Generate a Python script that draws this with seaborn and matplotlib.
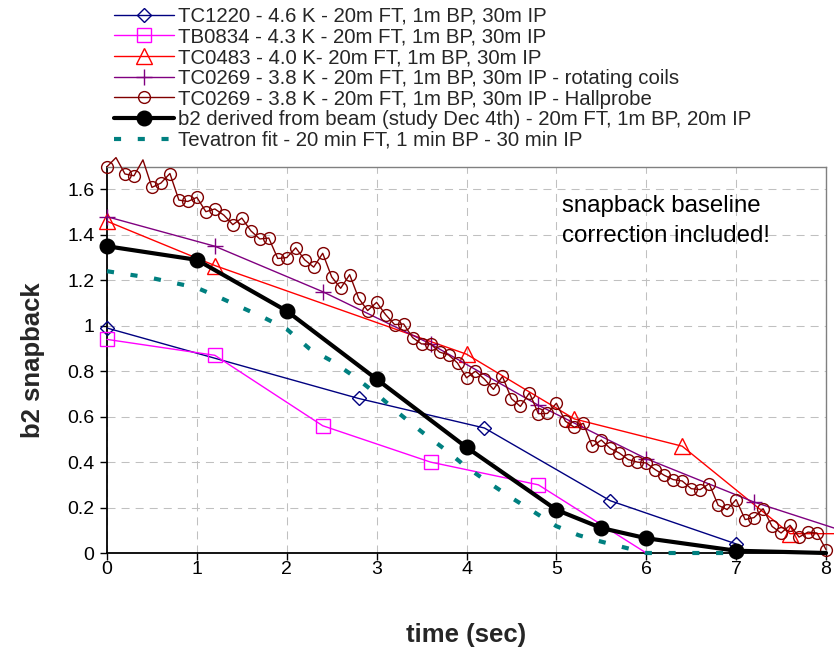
import matplotlib
matplotlib.use("Agg")
import matplotlib.pyplot as plt
import seaborn as sns
import pandas as pd
from matplotlib.lines import Line2D

# ---------------- data ----------------
tc1220_t = [0, 2.8, 4.2, 5.6, 7.0]
tc1220_b2 = [0.99, 0.68, 0.55, 0.23, 0.04]

tb0834_t = [0, 1.2, 2.4, 3.6, 4.8, 6.0]
tb0834_b2 = [0.94, 0.87, 0.56, 0.40, 0.30, 0.0]

tc0483_t = [0, 1.2, 4.0, 5.2, 6.4, 7.6, 8.8]
tc0483_b2 = [1.46, 1.265, 0.875, 0.59, 0.47, 0.085, 0.085]

tc0269c_t = [0, 1.2, 2.4, 3.6, 4.8, 6.0, 7.2, 8.4]
tc0269c_b2 = [1.48, 1.35, 1.15, 0.92, 0.65, 0.415, 0.224, 0.07]

hall_t = [round(0.1 * i, 1) for i in range(81)]
hall_b2 = [1.70, 1.74, 1.668, 1.66, 1.73, 1.609, 1.628, 1.670, 1.553, 1.547,
           1.565, 1.502, 1.514, 1.487, 1.445, 1.474, 1.418, 1.382, 1.386, 1.296,
           1.300, 1.343, 1.290, 1.258, 1.319, 1.215, 1.165, 1.225, 1.121, 1.067,
           1.103, 1.049, 1.005, 1.008, 0.948, 0.920, 0.920, 0.884, 0.872, 0.836,
           0.771, 0.800, 0.765, 0.720, 0.777, 0.679, 0.645, 0.705, 0.613, 0.614,
           0.659, 0.580, 0.553, 0.571, 0.469, 0.497, 0.460, 0.440, 0.411, 0.400,
           0.396, 0.367, 0.342, 0.323, 0.317, 0.283, 0.279, 0.305, 0.210, 0.191,
           0.235, 0.147, 0.156, 0.195, 0.117, 0.088, 0.122, 0.070, 0.092, 0.088,
           0.015]

beam_t = [0, 1, 2, 3, 4, 5, 5.5, 6, 7, 8]
beam_b2 = [1.35, 1.29, 1.065, 0.765, 0.465, 0.19, 0.11, 0.065, 0.01, 0.0]

tev_t = [0, 0.5, 1.0, 1.25, 1.5, 1.75, 2.0, 2.25, 2.5, 2.75, 3.0, 3.25, 3.5,
         3.75, 4.0, 4.25, 4.5, 4.75, 5.0, 5.25, 5.5, 5.75, 6.0, 6.5, 7.0]
tev_b2 = [1.24, 1.21, 1.167, 1.125, 1.08, 1.035, 0.985, 0.90, 0.845, 0.777,
          0.70, 0.614, 0.534, 0.459, 0.378, 0.309, 0.243, 0.181, 0.118, 0.078,
          0.05, 0.025, 0.0, 0.0, 0.0]

labels = [
    "TC1220 - 4.6 K - 20m FT, 1m BP, 30m IP",
    "TB0834 - 4.3 K - 20m FT, 1m BP, 30m IP",
    "TC0483 - 4.0 K- 20m FT, 1m BP, 30m IP",
    "TC0269 - 3.8 K - 20m FT, 1m BP, 30m IP - rotating coils",
    "TC0269 - 3.8 K - 20m FT, 1m BP, 30m IP - Hallprobe",
    "b2 derived from beam (study Dec 4th) - 20m FT, 1m BP, 20m IP",
    "Tevatron fit - 20 min FT, 1 min BP - 30 min IP",
]
x_ticks = [0, 1, 2, 3, 4, 5, 6, 7, 8]
y_ticks = [0, 0.2, 0.4, 0.6, 0.8, 1.0, 1.2, 1.4, 1.6]
y_tick_labels = ["0", "0.2", "0.4", "0.6", "0.8", "1", "1.2", "1.4", "1.6"]
note = "snapback baseline\ncorrection included!"

# ---------------- style ----------------
sns.set_theme(style="white")
plt.rcParams['font.family'] = ['Liberation Sans', 'DejaVu Sans']

fig = plt.figure(figsize=(8.34, 6.51), dpi=100)
ax = fig.add_axes([107 / 834, 1 - 553 / 651, 719 / 834, 386.3 / 651])


def df(t, v):
    return pd.DataFrame({"t": t, "b2": v})


common = dict(x="t", y="b2", ax=ax, sort=False, estimator=None, clip_on=False)

navy, magenta, red, purple, dred, teal = "#000080", "#FF00FF", "#FF0000", "#800080", "#800000", "#008080"

sns.lineplot(data=df(tc1220_t, tc1220_b2), color=navy, lw=1.0, marker="D", ms=7.5,
             mfc="none", mec=navy, mew=1.0, zorder=3, **common)
sns.lineplot(data=df(tb0834_t, tb0834_b2), color=magenta, lw=1.0, marker="s", ms=10,
             mfc="none", mec=magenta, mew=1.0, markevery=list(range(len(tb0834_t) - 1)),
             zorder=3, **common)
sns.lineplot(data=df(tc0483_t, tc0483_b2), color=red, lw=1.0, marker="^", ms=11,
             mfc="none", mec=red, mew=1.0, zorder=3, **common)
sns.lineplot(data=df(tc0269c_t, tc0269c_b2), color=purple, lw=1.0, marker="+", ms=12,
             mec=purple, mew=1.0, zorder=3, **common)
sns.lineplot(data=df(hall_t, hall_b2), color=dred, lw=1.0, marker="o", ms=8.5,
             mfc="none", mec=dred, mew=1.0,
             markevery=[i for i in range(len(hall_t)) if hall_b2[i] <= 1.7],
             zorder=3, **common)
sns.lineplot(data=df(beam_t, beam_b2), color="black", lw=3.0, marker="o", ms=10.5,
             mfc="black", mec="black", mew=1.0, markevery=list(range(len(beam_t) - 1)),
             zorder=4, **common)
sns.lineplot(data=df(tev_t, tev_b2), color=teal, lw=3.0, linestyle=(0, (1.7, 4.0)),
             zorder=4, **common)

ax.set_xlim(0, 8)
ax.set_ylim(0, 1.7)
ax.set_xticks(x_ticks)
ax.set_xticklabels([str(v) for v in x_ticks])
ax.set_yticks(y_ticks)
ax.set_yticklabels(y_tick_labels)
ax.tick_params(axis="both", labelsize=14, colors="black", direction="out",
               width=1.0)
ax.tick_params(axis="x", bottom=True, length=5, pad=1)
ax.tick_params(axis="y", left=True, length=5, pad=4)

ax.grid(True, color="#c0c0c0", lw=0.75, linestyle=(0, (7.7, 5.8)))
ax.set_axisbelow(True)
for s in ["left", "bottom"]:
    ax.spines[s].set_color("black")
    ax.spines[s].set_linewidth(1.3)
for s in ["top", "right"]:
    ax.spines[s].set_color("#808080")
    ax.spines[s].set_linewidth(1.0)

ax.set_xlabel("time (sec)", fontsize=18.5, fontweight="bold")
ax.set_ylabel("b2 snapback", fontsize=18.5, fontweight="bold")
ax.xaxis.set_label_coords(0.5, -0.182)
ax.yaxis.set_label_coords(-0.086, 0.5)

ax.text(562 / 834, 1 - 195 / 651, note, transform=fig.transFigure, fontsize=17.3,
        va="top", ha="left", linespacing=1.5, color="black")

handles = [
    Line2D([], [], color=navy, lw=1.0, marker="D", ms=7.5, mfc="none", mec=navy),
    Line2D([], [], color=magenta, lw=1.0, marker="s", ms=10, mfc="none", mec=magenta),
    Line2D([], [], color=red, lw=1.0, marker="^", ms=11, mfc="none", mec=red),
    Line2D([], [], color=purple, lw=1.0, marker="+", ms=12, mec=purple),
    Line2D([], [], color=dred, lw=1.0, marker="o", ms=8.5, mfc="none", mec=dred),
    Line2D([], [], color="black", lw=3.0, marker="o", ms=10.5, mfc="black", mec="black"),
    Line2D([], [], color=teal, lw=3.0, linestyle=(0, (1.7, 4.0))),
]
fig.legend(handles, labels, loc="upper left", bbox_to_anchor=(114 / 834, 1 - 7 / 651),
           frameon=False, fontsize=14.7, handlelength=2.95, handletextpad=0.2,
           labelspacing=0.08, borderpad=0, borderaxespad=0, numpoints=1)

fig.savefig("out.png", dpi=100)
